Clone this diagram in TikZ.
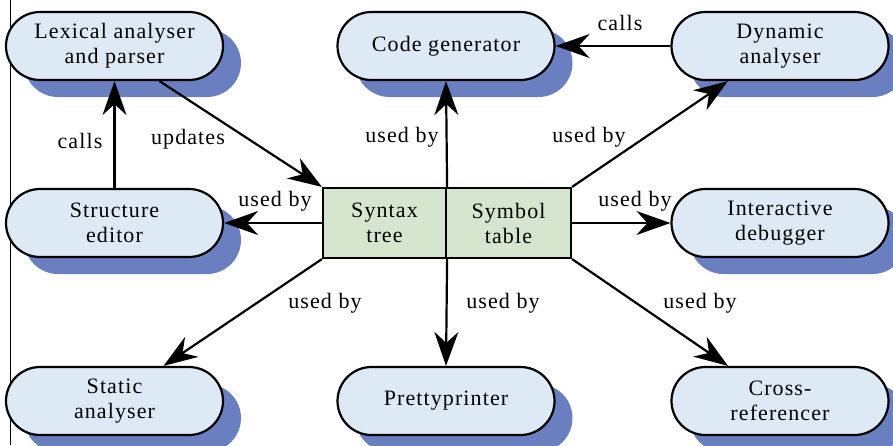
\documentclass[tikz,border=0pt]{standalone}
\usepackage{fontspec}
\setmainfont[LetterSpace=5]{Liberation Serif}
\usetikzlibrary{shadows,arrows.meta}
\definecolor{pillblue}{HTML}{DDEAF6}
\definecolor{shadowblue}{HTML}{6A7FBF}
\definecolor{boxgreen}{HTML}{D6E6CE}
\tikzset{
    tool-pill/.style = {draw=black, fill=pillblue, line width=2.2pt, rectangle, rounded corners=34pt, minimum width=217pt, minimum height=68pt, inner sep=0pt, align=center, font=\fontsize{22}{25}\selectfont, drop shadow={shadow xshift=18pt, shadow yshift=-17pt, fill=shadowblue, opacity=1}},
    table-box/.style = {draw=black, fill=boxgreen, line width=2.2pt, rectangle, minimum height=70pt, inner sep=0pt, align=center, font=\fontsize{22}{25}\selectfont},
    uses/.style = {line width=2.2pt, -{Stealth[length=34pt,width=24pt,inset=11pt]}},
    edge-label/.style = {font=\fontsize{22}{25}\selectfont, inner sep=0pt},
}

\begin{document}
\begin{tikzpicture}[x=1pt, y=-1pt]
\useasboundingbox (0,0) rectangle (893,445);
\draw[line width=0.8pt] (10,0) -- (10,445);

% the two tables in the middle
\node [table-box, minimum width=123pt] (syntax) at (384.5,223) {Syntax\\tree};
\node [table-box, minimum width=125pt] (symbol) at (508.5,223) {Symbol\\table};

% tools
\node [tool-pill] (lexer) at (114.5,46) {Lexical analyser\\and parser};
\node [tool-pill] (codegen) at (446,46) {Code generator};
\node [tool-pill] (dynamic) at (780,46) {Dynamic\\analyser};
\node [tool-pill] (editor) at (114.5,223) {Structure\\editor};
\node [tool-pill] (debugger) at (780,223) {Interactive\\debugger};
\node [tool-pill] (static) at (114.5,401) {Static\\analyser};
\node [tool-pill] (pretty) at (446,401) {Prettyprinter};
\node [tool-pill] (cross) at (780,401) {Cross-\\referencer};

% connectors
\draw [uses] (editor.north) -- (lexer.south);
\draw [uses] ([xshift=45pt]lexer.south) -- (syntax.north west);
\draw [uses] (syntax.north east) -- (codegen.south);
\draw [uses] (symbol.north east) -- ([xshift=-52pt]dynamic.south);
\draw [uses] (dynamic.west) -- (codegen.east);
\draw [uses] (syntax.west) -- (editor.east);
\draw [uses] (symbol.east) -- (debugger.west);
\draw [uses] (syntax.south west) -- ([xshift=49pt]static.north);
\draw [uses] (syntax.south east) -- (pretty.north);
\draw [uses] (symbol.south east) -- ([xshift=-52pt]cross.north);

% labels
\node [edge-label] (l-calls1) at (80,141) {calls};
\node [edge-label] (l-updates) at (188,139) {updates};
\node [edge-label] (l-used1) at (402,137) {used by};
\node [edge-label] (l-used2) at (589,137) {used by};
\node [edge-label] (l-calls2) at (620,23) {calls};
\node [edge-label] (l-used3) at (275,201) {used by};
\node [edge-label] (l-used4) at (635,201) {used by};
\node [edge-label] (l-used5) at (325,303) {used by};
\node [edge-label] (l-used6) at (503,303) {used by};
\node [edge-label] (l-used7) at (700,303) {used by};
\end{tikzpicture}
\end{document}
